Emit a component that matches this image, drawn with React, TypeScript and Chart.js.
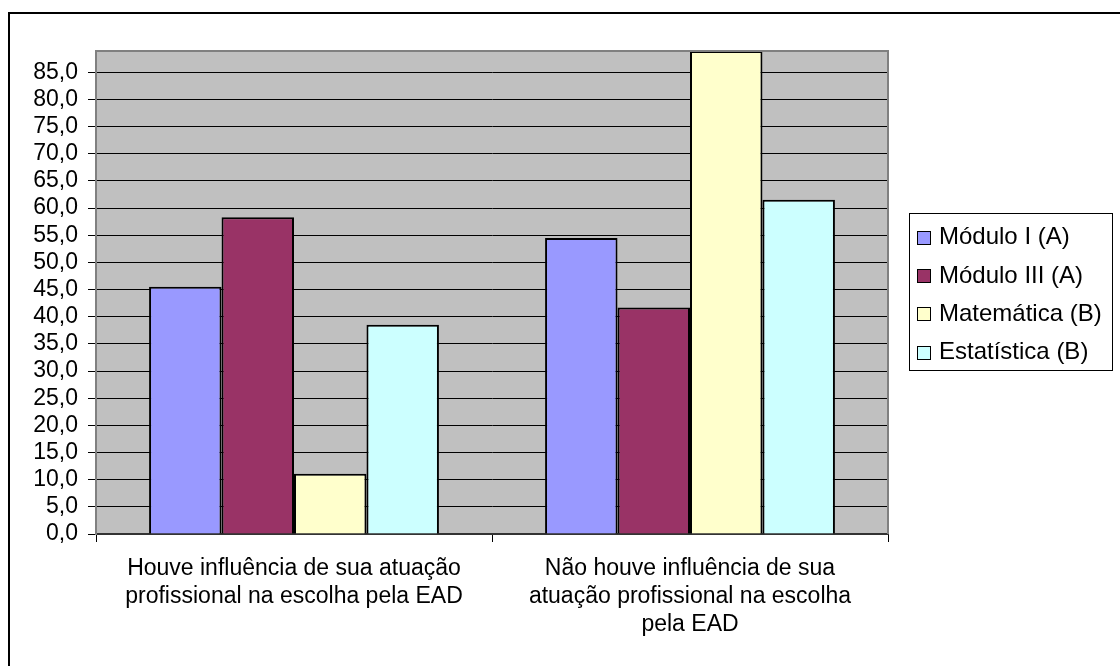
import React, { useEffect, useRef } from 'react';
import { Chart, registerables } from 'chart.js';

Chart.register(...registerables);

const categories = [
  ['Houve influência de sua atuação', 'profissional na escolha pela EAD'],
  ['Não houve influência de sua', 'atuação profissional na escolha', 'pela EAD'],
];
const seriesNames = ['Módulo I (A)', 'Módulo III (A)', 'Matemática (B)', 'Estatística (B)'];
const moduloI = [45.5, 54.5];
const moduloIII = [58.3, 41.7];
const matematica = [11.1, 88.9];
const estatistica = [38.5, 61.5];
const seriesColors = ['#9999FF', '#993366', '#FFFFCC', '#CCFFFF'];
const yMax = 88.9;
const yTickValues = [0, 5, 10, 15, 20, 25, 30, 35, 40, 45, 50, 55, 60, 65, 70, 75, 80, 85];

const FONT = '"Liberation Sans", Arial, sans-serif';

const framePlugin = {
  id: 'frame',
  beforeDraw(chart: any) {
    const { ctx, chartArea } = chart;
    ctx.save();
    ctx.fillStyle = '#ffffff';
    ctx.fillRect(0, 0, chart.width, chart.height);
    ctx.strokeStyle = '#000000';
    ctx.lineWidth = 2;
    ctx.beginPath();
    ctx.moveTo(9, chart.height + 10);
    ctx.lineTo(9, 13);
    ctx.lineTo(chart.width + 10, 13);
    ctx.stroke();
    ctx.fillStyle = '#C0C0C0';
    ctx.fillRect(chartArea.left, chartArea.top, chartArea.right - chartArea.left, chartArea.bottom - chartArea.top);
    ctx.restore();
  },
  afterDatasetsDraw(chart: any) {
    const { ctx, chartArea } = chart;
    ctx.save();
    ctx.strokeStyle = '#808080';
    ctx.lineWidth = 2;
    ctx.beginPath();
    ctx.moveTo(chartArea.left, chartArea.top);
    ctx.lineTo(chartArea.right, chartArea.top);
    ctx.lineTo(chartArea.right, chartArea.bottom);
    ctx.stroke();
    ctx.restore();
  },
  afterDraw(chart: any) {
    const { ctx } = chart;
    ctx.save();
    ctx.fillStyle = '#ffffff';
    ctx.fillRect(909.5, 213.5, 203, 157);
    ctx.strokeStyle = '#000000';
    ctx.lineWidth = 1;
    ctx.strokeRect(909.5, 213.5, 203, 157);
    ctx.font = `24px ${FONT}`;
    ctx.textBaseline = 'middle';
    ctx.textAlign = 'left';
    chart.data.datasets.forEach((ds: any, i: number) => {
      const cy = 236.7 + i * 38.3;
      ctx.fillStyle = ds.backgroundColor;
      ctx.fillRect(917.5, Math.round(cy - 6) + 0.5, 13, 13);
      ctx.strokeStyle = '#000000';
      ctx.strokeRect(917.5, Math.round(cy - 6) + 0.5, 13, 13);
      ctx.fillStyle = '#000000';
      ctx.fillText(ds.label, 939, cy + 1);
    });
    ctx.restore();
  },
};

export default function App() {
  const ref = useRef<HTMLCanvasElement | null>(null);
  useEffect(() => {
    if (!ref.current) return;
    const seriesValues = [moduloI, moduloIII, matematica, estatistica];
    const chart = new Chart(ref.current, {
      type: 'bar',
      data: {
        labels: categories,
        datasets: seriesNames.map((name, i) => ({
          label: name,
          data: seriesValues[i],
          backgroundColor: seriesColors[i],
          borderColor: '#000000',
          borderWidth: 2,
          barPercentage: 1,
          categoryPercentage: 0.732,
        })),
      },
      options: {
        animation: false,
        responsive: false,
        devicePixelRatio: 1,
        layout: { padding: { top: 51, right: 232, left: 0, bottom: 0 } },
        plugins: { legend: { display: false }, tooltip: { enabled: false } },
        scales: {
          x: {
            offset: true,
            grid: { offset: true, drawOnChartArea: false, color: '#000000', tickLength: 8 },
            border: { color: '#333333', width: 2 },
            ticks: {
              color: '#000000',
              font: { family: FONT, size: 23, lineHeight: '28px' },
              padding: 13,
              maxRotation: 0,
              autoSkip: false,
            },
            afterFit(scale: any) {
              scale.height = 132;
            },
          },
          y: {
            min: 0,
            max: yMax,
            ticks: {
              autoSkip: false,
              color: '#000000',
              font: { family: FONT, size: 23 },
              padding: 10,
              callback: (v: any) => Number(v).toFixed(1).replace('.', ','),
            },
            afterBuildTicks(scale: any) {
              scale.ticks = yTickValues.map((v) => ({ value: v }));
            },
            grid: { color: '#000000', lineWidth: 1, tickLength: 8 },
            border: { color: '#808080', width: 2 },
            afterFit(scale: any) {
              scale.width = 96;
            },
          },
        },
      },
      plugins: [framePlugin],
    });
    return () => chart.destroy();
  }, []);
  return (
    <div style={{ position: 'fixed', left: 0, top: 0, width: 1120, height: 666 }}>
      <canvas ref={ref} width={1120} height={666} style={{ width: 1120, height: 666, display: 'block' }} />
    </div>
  );
}
